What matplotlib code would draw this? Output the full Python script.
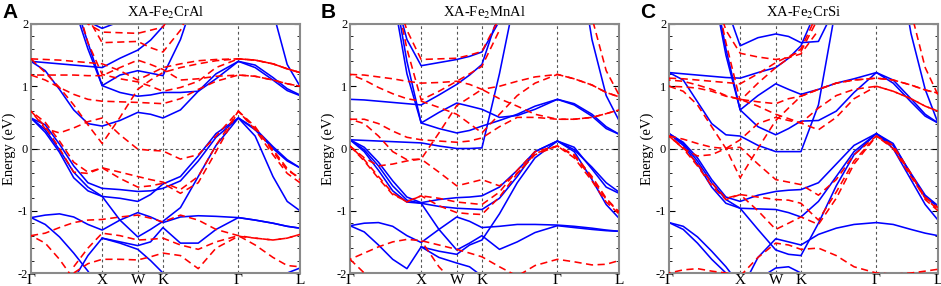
import numpy as np
import matplotlib
matplotlib.use('Agg')
import matplotlib.pyplot as plt

N = np.nan

# k-path (FCC, units of 2pi/a): G X W K G L
kgrid = [0, 0.2, 0.4, 0.6, 0.8, 1.0, 1.25, 1.5, 1.68, 1.854,
         2.1, 2.35, 2.6, 2.914, 3.15, 3.4, 3.6, 3.78]
kticks = [0, 1.0, 1.5, 1.854, 2.914, 3.78]
klabels = ['Γ', 'X', 'W', 'K', 'Γ', 'L']
titles = ['XA-Fe$_2$CrAl', 'XA-Fe$_2$MnAl', 'XA-Fe$_2$CrSi']
letters = ['A', 'B', 'C']

# spin-up (blue, solid) and spin-down (red, dashed) bands, eV
up_A = [
    [1.40, 1.38, 1.36, 1.34, 1.32, 1.30, 1.45, 1.58, 1.74, 1.96, 2.40, N, N, N, N, N, N, N],
    [1.40, 1.25, 0.95, 0.62, 0.40, 0.36, 0.45, 0.58, 0.55, 0.49, 0.62, 0.92, 1.20, 1.40, 1.30, 1.10, 0.93, 0.85],
    [N, N, 2.9, 2.3, 1.60, 1.01, 0.90, 0.84, 0.86, 0.90, 0.90, 0.92, 1.12, 1.40, 1.34, 1.14, 0.96, 0.86],
    [N, N, 3.0, 2.4, 1.70, 1.01, 1.18, 1.25, 1.21, 1.17, 1.75, 2.60, N, N, N, N, N, N],
    [N, N, N, 2.6, 2.04, 1.93, 2.04, 2.30, N, N, N, N, N, N, N, N, N, N],
    [N, N, N, N, N, N, N, N, N, N, N, N, N, N, 3.4, 2.2, 1.35, 1.00],
    [0.49, 0.38, 0.07, -0.28, -0.55, -0.64, -0.66, -0.69, -0.68, -0.64, -0.52, -0.20, 0.18, 0.49, 0.30, 0.00, -0.20, -0.31],
    [0.49, 0.30, -0.02, -0.38, -0.62, -0.77, -0.80, -0.85, -0.74, -0.57, -0.45, -0.12, 0.24, 0.49, 0.32, 0.03, -0.18, -0.31],
    [0.49, 0.26, -0.06, -0.47, -0.68, -0.77, -1.15, -1.42, -1.30, -1.17, -0.95, -0.45, 0.05, 0.49, 0.20, -0.45, -0.85, -1.00],
    [-1.11, -1.07, -1.05, -1.10, -1.22, -1.31, -1.15, -1.03, -1.10, -1.19, -1.10, -1.08, -1.09, -1.11, -1.15, -1.20, -1.25, -1.28],
    [-1.11, -1.22, -1.42, -1.68, -1.97, -2.30, N, N, N, N, N, N, N, N, N, N, N, N],
    [N, N, N, -2.10, -1.72, -1.44, -1.50, -1.56, -1.50, -1.27, -1.52, -1.52, -1.30, -1.11, -1.15, -1.20, -1.25, -1.28],
    [N, N, N, N, N, -1.44, -1.52, -1.62, -1.80, -2.00, -2.20, N, N, N, N, N, N, N],
    [N, N, N, N, N, N, N, N, N, N, N, N, N, N, N, -2.2, -2.0, -1.92],
]
dn_A = [
    [1.44, 1.43, 1.42, 1.40, 1.38, 1.36, 1.25, 1.10, 1.20, 1.30, 1.36, 1.41, 1.43, 1.44, 1.42, 1.36, 1.28, 1.22],
    [1.18, 1.18, 1.18, 1.18, 1.17, 1.17, 1.30, 1.42, 1.35, 1.27, 1.10, 1.12, 1.16, 1.18, 1.16, 1.10, 1.04, 1.00],
    [1.18, 1.10, 0.98, 0.87, 0.79, 0.76, 0.75, 0.74, 0.73, 0.72, 0.80, 0.95, 1.08, 1.18, 1.16, 1.10, 1.04, 1.00],
    [N, N, N, 2.5, 1.70, 1.19, 1.12, 1.07, 1.00, 0.92, 0.98, 1.08, 1.30, 1.44, 1.42, 1.36, 1.28, 1.22],
    [N, N, N, 2.4, 2.00, 1.87, 1.86, 1.85, 1.90, 1.95, 2.40, N, N, N, N, N, N, N],
    [N, N, N, 2.6, 2.10, 1.70, 1.71, 1.72, 1.62, 1.55, 1.90, 2.50, N, N, N, N, N, N],
    [1.44, 1.22, 0.98, 0.70, 0.38, 0.08, 0.50, 0.95, 1.10, 1.22, 1.30, 1.36, 1.41, 1.44, 1.42, 1.36, 1.28, 1.22],
    [0.60, 0.32, 0.25, 0.33, 0.43, 0.49, 0.22, -0.01, -0.03, -0.04, -0.17, -0.10, 0.20, 0.60, 0.35, -0.05, -0.35, -0.47],
    [0.60, 0.35, 0.00, -0.38, -0.40, -0.31, -0.38, -0.45, -0.50, -0.54, -0.66, -0.45, 0.05, 0.60, 0.30, -0.10, -0.40, -0.55],
    [0.60, 0.42, 0.12, -0.22, -0.38, -0.31, -0.48, -0.62, -0.60, -0.56, -0.72, -0.55, -0.05, 0.60, 0.32, -0.02, -0.32, -0.50],
    [-1.40, -1.36, -1.27, -1.19, -1.15, -1.14, -1.10, -1.07, -1.12, -1.18, -1.07, -1.15, -1.30, -1.40, -1.44, -1.47, -1.44, -1.38],
    [-1.40, -1.52, -1.78, -2.10, N, N, N, N, N, N, N, N, N, N, N, N, N, N],
    [N, N, N, -1.90, -1.60, -1.36, -1.40, -1.47, -1.46, -1.44, -1.55, -1.62, -1.50, -1.40, -1.55, -1.75, -1.88, -1.90],
    [N, N, -2.3, -2.00, -1.85, -1.78, -1.78, -1.79, -1.74, -1.68, -1.72, -1.93, -1.60, -1.41, -1.44, -1.47, -1.44, -1.38],
]

up_B = [
    [N, N, N, 2.6, 1.75, 1.33, 1.38, 1.43, 1.48, 1.55, 2.05, N, N, N, N, N, N, N],
    [N, N, N, 2.5, 1.20, 0.41, 0.32, 0.25, 0.29, 0.36, 0.45, 0.55, 0.68, 0.79, 0.72, 0.55, 0.35, 0.23],
    [0.79, 0.78, 0.76, 0.74, 0.72, 0.70, 0.86, 1.03, 1.18, 1.35, 2.20, N, N, N, N, N, N, N],
    [N, N, N, 2.7, 1.40, 0.41, 0.58, 0.73, 0.68, 0.63, 0.50, 0.53, 0.63, 0.79, 0.70, 0.52, 0.32, 0.23],
    [0.14, 0.13, 0.12, 0.11, 0.10, 0.09, 0.04, 0.00, 0.00, 0.01, 1.20, 2.60, N, N, N, N, N, N],
    [N, N, N, N, N, N, N, N, N, N, N, N, N, N, 3.5, 1.75, 0.85, 0.45],
    [0.14, 0.02, -0.22, -0.52, -0.78, -0.87, -0.82, -0.79, -0.78, -0.76, -0.62, -0.35, -0.05, 0.12, -0.02, -0.30, -0.55, -0.70],
    [0.14, -0.02, -0.28, -0.60, -0.83, -0.88, -0.93, -0.96, -0.97, -0.98, -0.80, -0.45, -0.05, 0.12, -0.05, -0.50, -0.90, -1.12],
    [0.14, -0.05, -0.35, -0.68, -0.86, -0.88, -1.30, -1.63, -1.52, -1.40, -1.62, -1.50, -1.35, -1.24, -1.27, -1.30, -1.32, -1.33],
    [-1.24, -1.20, -1.19, -1.25, -1.40, -1.51, -1.30, -1.10, -1.17, -1.27, -1.25, -1.22, -1.22, -1.23, -1.25, -1.28, -1.31, -1.33],
    [-1.24, -1.34, -1.55, -1.78, -1.93, -1.58, -1.75, -1.84, -1.90, -2.05, N, N, N, N, N, N, N, N],
    [N, N, N, N, N, -1.58, -1.65, -1.70, -1.55, -1.47, -1.05, -0.55, -0.15, 0.12, 0.02, -0.33, -0.62, -0.72],
]
dn_B = [
    [1.19, 1.18, 1.15, 1.12, 1.08, 1.05, 1.06, 1.08, 1.03, 0.95, 1.00, 1.08, 1.15, 1.19, 1.12, 1.02, 0.90, 0.83],
    [1.19, 1.10, 0.98, 0.88, 0.80, 0.76, 0.66, 0.55, 0.40, 0.25, 0.55, 0.85, 1.05, 1.19, 1.12, 1.02, 0.90, 0.83],
    [0.47, 0.47, 0.40, 0.28, 0.18, 0.14, 0.12, 0.10, 0.12, 0.17, 0.35, 0.50, 0.50, 0.47, 0.47, 0.50, 0.56, 0.62],
    [0.47, 0.40, 0.20, -0.05, -0.18, -0.17, 0.25, 0.69, 0.82, 0.95, 0.80, 0.68, 0.55, 0.47, 0.47, 0.50, 0.56, 0.62],
    [0.04, -0.15, -0.28, -0.25, -0.20, -0.17, -0.38, -0.60, -0.55, -0.50, -0.60, -0.40, -0.10, 0.04, -0.10, -0.45, -0.80, -1.02],
    [0.04, -0.18, -0.45, -0.72, -0.86, -0.76, -0.80, -0.86, -0.88, -0.90, -0.70, -0.35, -0.05, 0.04, -0.12, -0.48, -0.82, -1.02],
    [0.04, -0.20, -0.48, -0.74, -0.85, -0.76, -0.92, -1.03, -1.05, -1.06, -0.78, -0.40, -0.08, 0.04, -0.15, -0.52, -0.86, -1.05],
    [-1.78, -1.68, -1.58, -1.50, -1.46, -1.48, -1.55, -1.62, -1.68, -1.74, -1.90, -2.05, -1.88, -1.78, -1.82, -1.87, -1.86, -1.80],
    [-1.78, -2.00, -2.30, N, N, N, N, N, N, N, N, N, N, N, N, N, N, N],
    [N, N, N, N, N, -1.48, -1.90, -2.20, N, N, N, N, N, N, N, N, N, N],
    [N, N, N, 2.6, 1.90, 1.43, 1.44, 1.45, 1.50, 1.56, 2.10, N, N, N, N, N, N, N],
    [N, N, N, 2.7, 1.60, 0.78, 0.92, 1.08, 1.20, 1.32, 1.90, N, N, N, N, N, N, N],
    [N, N, N, N, N, N, N, N, N, N, N, N, N, N, 3.4, 2.1, 1.25, 0.86],
]

up_C = [
    [1.22, 1.20, 1.18, 1.16, 1.14, 1.13, 1.22, 1.30, 1.45, 1.65, 2.30, N, N, N, N, N, N, N],
    [1.22, 1.10, 0.75, 0.40, 0.22, 0.20, 0.05, -0.05, -0.05, -0.05, 0.70, 2.30, N, N, N, N, N, N],
    [N, N, N, 3.0, 2.30, 1.65, 1.78, 1.84, 1.80, 1.70, 1.72, 2.30, N, N, N, N, N, N],
    [N, N, N, 2.7, 1.50, 0.62, 0.85, 1.04, 0.95, 0.87, 0.95, 1.05, 1.12, 1.22, 1.05, 0.75, 0.52, 0.41],
    [N, N, N, 2.8, 1.60, 0.62, 0.35, 0.22, 0.32, 0.44, 0.45, 0.60, 0.90, 1.22, 1.10, 0.80, 0.55, 0.41],
    [N, N, N, N, N, N, N, N, N, N, N, N, N, N, 3.5, 1.85, 0.95, 0.41],
    [0.24, 0.10, -0.15, -0.50, -0.78, -0.85, -0.75, -0.69, -0.67, -0.66, -0.55, -0.25, 0.05, 0.24, 0.05, -0.40, -0.75, -0.92],
    [0.24, 0.05, -0.25, -0.62, -0.88, -0.96, -0.97, -0.98, -1.03, -1.10, -0.85, -0.45, -0.05, 0.24, 0.00, -0.50, -0.90, -1.15],
    [0.24, 0.08, -0.20, -0.55, -0.82, -0.96, -1.30, -1.63, -1.70, -1.72, -1.20, -0.60, -0.10, 0.24, 0.08, -0.42, -0.78, -0.94],
    [-1.19, -1.25, -1.42, -1.65, -1.90, -2.20, N, N, N, N, N, N, N, N, N, N, N, N],
    [-1.19, -1.30, -1.52, -1.78, -2.00, -2.30, N, N, N, N, N, N, N, N, N, N, N, N],
    [N, N, N, N, N, -2.30, -1.75, -1.45, -1.50, -1.55, -1.38, -1.28, -1.22, -1.19, -1.22, -1.30, -1.36, -1.40],
    [N, N, N, N, N, N, -2.10, -1.92, -1.90, -2.00, -2.20, N, N, N, N, N, N, N],
]
dn_C = [
    [1.13, 1.12, 1.10, 1.08, 1.06, 1.04, 1.20, 1.38, 1.48, 1.56, 2.10, N, N, N, N, N, N, N],
    [1.10, 1.08, 1.02, 0.95, 0.85, 0.79, 0.75, 0.72, 0.80, 0.84, 0.95, 1.05, 1.10, 1.13, 1.10, 1.02, 0.94, 0.89],
    [1.00, 0.92, 0.70, 0.35, 0.00, -0.47, 0.00, 0.45, 0.65, 0.84, 0.95, 1.05, 1.10, 1.13, 1.10, 1.02, 0.94, 0.89],
    [1.00, 0.99, 0.97, 0.92, 0.84, 0.79, 0.68, 0.55, 0.48, 0.41, 0.65, 0.85, 0.95, 1.00, 0.92, 0.80, 0.68, 0.60],
    [N, N, N, 2.6, 1.90, 1.53, 1.47, 1.43, 1.46, 1.52, 1.90, N, N, N, N, N, N, N],
    [N, N, N, 2.8, 1.70, 0.77, 1.05, 1.30, 1.45, 1.60, 2.20, N, N, N, N, N, N, N],
    [N, N, N, N, N, N, N, N, N, N, N, N, N, N, 3.5, 2.2, 1.30, 0.86],
    [0.20, 0.00, -0.12, -0.10, 0.00, 0.14, 0.40, 0.50, 0.45, 0.41, 0.30, 0.50, 0.80, 1.00, 0.92, 0.80, 0.68, 0.60],
    [0.20, 0.15, 0.08, 0.02, 0.00, 0.02, -0.25, -0.50, -0.54, -0.58, -0.75, -0.50, -0.10, 0.20, 0.00, -0.45, -0.80, -0.98],
    [0.20, 0.02, -0.25, -0.55, -0.80, -0.74, -0.78, -0.82, -0.83, -0.88, -1.15, -0.70, -0.20, 0.20, 0.02, -0.42, -0.78, -0.95],
    [0.20, 0.00, -0.28, -0.60, -0.82, -0.74, -1.00, -1.30, -1.20, -1.10, -1.22, -0.80, -0.25, 0.20, 0.05, -0.40, -0.82, -1.00],
    [-2.00, -1.95, -1.93, -1.97, -2.00, -2.05, N, N, N, N, N, N, N, N, N, N, N, N],
    [N, N, N, N, N, -2.05, -1.75, -1.52, -1.55, -1.62, -1.60, -1.72, -1.90, -2.00, -2.02, -2.00, -1.97, -1.94],
]

panels = [(up_A, dn_A), (up_B, dn_B), (up_C, dn_C)]
lefts = [31, 350, 669]

serif = 'Liberation Serif'
plt.rcParams['mathtext.fontset'] = 'stix'
fig = plt.figure(figsize=(9.41, 2.86), dpi=100)

for i, (ups, dns) in enumerate(panels):
    ax = fig.add_axes([lefts[i] / 941, 13 / 286, 269 / 941, 249 / 286])
    for kt in kticks[1:-1]:
        ax.axvline(kt, color='#555555', lw=0.8, ls=(0, (2.5, 2.5)), zorder=0)
    ax.axhline(0, color='#555555', lw=0.8, ls=(0, (2.5, 2.5)), zorder=0)
    for b in ups:
        ax.plot(kgrid, b, color='#0000ff', lw=1.15, zorder=2)
    for j, b in enumerate(dns):
        ax.plot(kgrid, b, color='#ff0000', lw=1.15,
                ls=(3.5 * (j % 2), (4.5, 2.8)), zorder=3)
    ax.set_xlim(0, 3.78)
    ax.set_ylim(-2, 2)
    ax.set_xticks(kticks)
    ax.set_xticklabels(klabels, fontsize=11, family=serif)
    ax.set_yticks([-2, -1, 0, 1, 2])
    ax.set_yticklabels(['-2', '-1', '0', '1', '2'], fontsize=9, family=serif)
    ax.set_yticks(np.arange(-2, 2.01, 0.2), minor=True)
    ax.tick_params(axis='y', which='both', direction='in', left=True, right=True, pad=2)
    ax.tick_params(axis='y', which='major', length=4)
    ax.tick_params(axis='y', which='minor', length=2.5)
    ax.tick_params(axis='x', length=0, pad=1)
    for s in ax.spines.values():
        s.set_color('#8a8a8a')
        s.set_linewidth(1.5)
    ax.set_ylabel('Energy (eV)', fontsize=10.5, family=serif, labelpad=1)
    ax.set_title(titles[i], fontsize=10.5, family=serif, pad=5)
    fig.text((lefts[i] - 29) / 941, 0.955, letters[i], fontsize=15,
             fontweight='bold', family='Liberation Sans', va='center', ha='left')

fig.savefig('out.png', dpi=100)
